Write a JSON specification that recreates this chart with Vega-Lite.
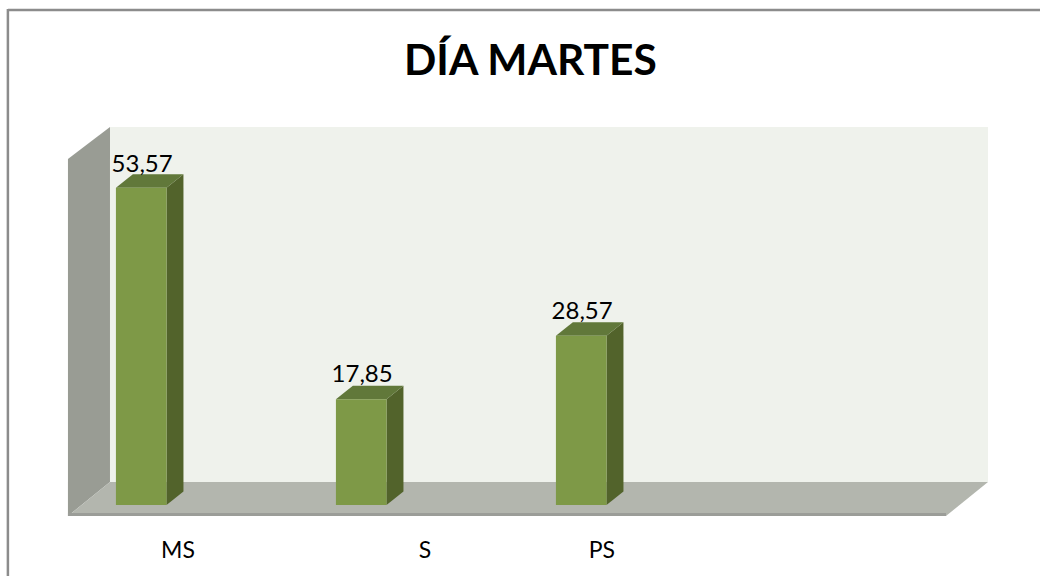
{"$schema":"https://vega.github.io/schema/vega-lite/v6.json","width":1040,"height":576,"padding":0,"autosize":{"type":"fit","contains":"padding"},"background":"white","config":{"view":{"stroke":null}},
"datasets":{
"bars":[{"cat":"MS","left":0.886,"right":1.116,"value":53.57,"base":0,"label":"53,57","lx":1.005,"ly":56.25},{"cat":"S","left":1.886,"right":2.116,"value":17.85,"base":0,"label":"17,85","lx":2.005,"ly":20.8},{"cat":"PS","left":2.886,"right":3.116,"value":28.57,"base":0,"label":"28,57","lx":3.005,"ly":31.4}],
"sides":[{"cat":"MS","x":1.116,"top":53.57,"bottom":0},{"cat":"MS","x":1.193,"top":55.85,"bottom":2.28},{"cat":"S","x":2.116,"top":17.85,"bottom":0},{"cat":"S","x":2.193,"top":20.13,"bottom":2.28},{"cat":"PS","x":3.116,"top":28.57,"bottom":0},{"cat":"PS","x":3.193,"top":30.85,"bottom":2.28}],
"tops":[{"cat":"MS","y":53.57,"a":0.886,"b":1.116},{"cat":"MS","y":55.85,"a":0.963,"b":1.193},{"cat":"S","y":17.85,"a":1.886,"b":2.116},{"cat":"S","y":20.13,"a":1.963,"b":2.193},{"cat":"PS","y":28.57,"a":2.886,"b":3.116},{"cat":"PS","y":30.85,"a":2.963,"b":3.193}],
"cats":[{"t":"MS","x":1.168,"y":-8.95},{"t":"S","x":2.291,"y":-8.95},{"t":"PS","x":3.095,"y":-8.95}]
},
"layer":[
{"data":{"values":[{"x":0.395,"x2":5.09,"y":83.6,"y2":83.6},{"x":0.395,"x2":0.395,"y":83.8,"y2":-12.1}]},"mark":{"type":"rule","color":"#8c8c8c","strokeWidth":2.5,"clip":true},"encoding":{"x":{"field":"x","type":"quantitative","scale":{"domain":[0.35909,5.08636],"nice":false,"zero":false},"axis":null},"x2":{"field":"x2"},"y":{"field":"y","type":"quantitative","scale":{"domain":[-11.993,85.304],"nice":false,"zero":false},"axis":null},"y2":{"field":"y2"}}},
{"data":{"values":[{"x":0.859,"x2":4.85,"y":63.85,"y2":3.885}]},"mark":{"type":"rect","color":"#eff2ec"},"encoding":{"x":{"field":"x","type":"quantitative"},"x2":{"field":"x2"},"y":{"field":"y","type":"quantitative"},"y2":{"field":"y2"}}},
{"data":{"values":[{"x":0.668,"top":58.45,"bottom":-1.858},{"x":0.859,"top":63.85,"bottom":3.885}]},"mark":{"type":"area","color":"#999c94","opacity":1},"encoding":{"x":{"field":"x","type":"quantitative"},"y":{"field":"top","type":"quantitative"},"y2":{"field":"bottom"}}},
{"data":{"values":[{"y":3.885,"a":0.859,"b":4.85},{"y":-1.858,"a":0.668,"b":4.659}]},"mark":{"type":"area","orient":"horizontal","color":"#b3b6ae","opacity":1},"encoding":{"y":{"field":"y","type":"quantitative"},"x":{"field":"a","type":"quantitative"},"x2":{"field":"b"}}},
{"data":{"values":[{"x":0.668,"x2":4.659,"y":-1.36,"y2":-1.858}]},"mark":{"type":"rect","color":"#9b9d98"},"encoding":{"x":{"field":"x","type":"quantitative"},"x2":{"field":"x2"},"y":{"field":"y","type":"quantitative"},"y2":{"field":"y2"}}},
{"data":{"name":"sides"},"mark":{"type":"area","color":"#52632b","opacity":1},"encoding":{"detail":{"field":"cat"},"x":{"field":"x","type":"quantitative"},"y":{"field":"top","type":"quantitative"},"y2":{"field":"bottom"}}},
{"data":{"name":"tops"},"mark":{"type":"area","orient":"horizontal","color":"#61783a","opacity":1},"encoding":{"detail":{"field":"cat"},"y":{"field":"y","type":"quantitative"},"x":{"field":"a","type":"quantitative"},"x2":{"field":"b"}}},
{"data":{"name":"bars"},"mark":{"type":"rect","color":"#7e9947"},"encoding":{"x":{"field":"left","type":"quantitative"},"x2":{"field":"right"},"y":{"field":"value","type":"quantitative"},"y2":{"field":"base"}}},
{"data":{"name":"bars"},"mark":{"type":"text","font":"Lato","fontSize":24,"color":"#000000","baseline":"alphabetic","align":"center"},"encoding":{"x":{"field":"lx","type":"quantitative"},"y":{"field":"ly","type":"quantitative"},"text":{"field":"label"}}},
{"data":{"name":"cats"},"mark":{"type":"text","font":"Lato","fontSize":23,"color":"#000000","baseline":"alphabetic","align":"center"},"encoding":{"x":{"field":"x","type":"quantitative"},"y":{"field":"y","type":"quantitative"},"text":{"field":"t"}}},
{"data":{"values":[{"t":"DÍA MARTES","x":2.77,"y":72.6}]},"mark":{"type":"text","font":"Lato","fontWeight":"bold","fontSize":42.5,"color":"#000000","baseline":"alphabetic","align":"center"},"encoding":{"x":{"field":"x","type":"quantitative"},"y":{"field":"y","type":"quantitative"},"text":{"field":"t"}}}
]}
